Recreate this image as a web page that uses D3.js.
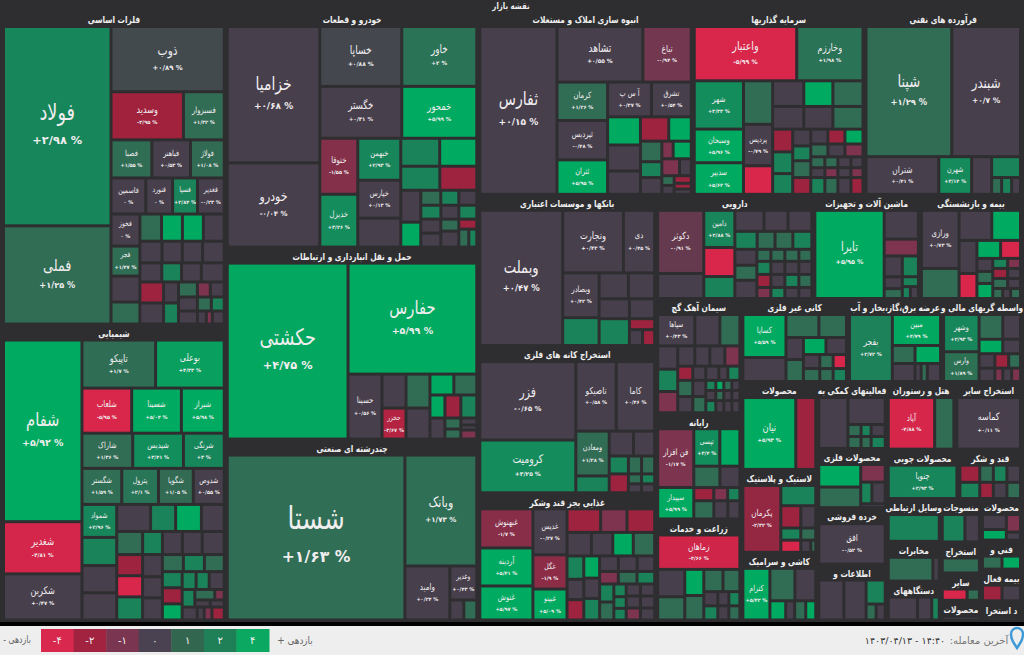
<!DOCTYPE html>
<html><head><meta charset="utf-8">
<script src="https://cdn.jsdelivr.net/npm/d3@7"></script>
<style>
html,body{margin:0;padding:0;background:#2e2e30;overflow:hidden}
svg{display:block;font-family:"DejaVu Sans",sans-serif}
</style></head><body><svg id="c" width="1024" height="655"></svg>
<script>
const GY=0.3,DK=1.3,GR=2.8,BR=5,PL=-1.2,RD=-2.8,HT=-5;
const C=(name,p,v)=>({name,p,v});
const U=(p,v)=>({name:"",p,v});
const H=(...children)=>({dir:"h",children});
const V=(...children)=>({dir:"v",children});
const S=(title,head,child)=>({title,head,dir:"h",children:[child]});
const E=(head,node)=>Object.assign(node,{head});

const felezat=S("فلزات اساسی",3550,H(
 V(C("فولاد",2.98,21500),C("فملی",1.25,10600)),
 V(C("ذوب",.89,7410),
  H(C("وسدید",-2.95,3500),C("فسبزوار",1.32,1970)),
  H(C("فصبا",1.55,1560),C("فباهنر",.53,1480),C("فولاژ",1.08,1290)),
  H(C("فاسمین",0,1260),C("فنورد",0,970),C("فسپا",2.84,900),C("فغدیر",-.23,970)),
  H(V(C("فخوز",0,930),C("فجر",1.47,870),U(GY,750),U(DK,640)),
    V(H(U(DK,590),U(BR,570),U(BR,570),U(GY,570)),
      H(U(GY,480),U(GY,440),U(GY,440),U(GY,470)),
      H(U(GY,420),U(GR,380),U(GY,380),U(GY,440)),
      H(V(U(RD,500),U(GY,500)),V(U(GY,315),U(GR,315)),
        V(H(U(DK,285),U(PL,195),U(GY,210)),H(U(GY,266),U(DK,196),U(GR,182)),H(U(GY,247),U(GY,117),U(PL,78),U(GY,156) ) ) ) ) ) ) ) );

const shimi=S("شیمیایی",3550,H(
 V(C("شفام",5.92,14300),C("شغدیر",-4.81,4110),C("شکربن",.47,3630)),
 V(H(C("تاپیکو",1.7,3550),C("بوعلی",4.33,3310)),
  H(C("شلعاب",-5.95,2250),C("شسینا",5.04,2250),C("شیراز",5.98,1940)),
  H(C("شاراک",1.36,1790),C("شپدیس",3.41,1790),C("شرنگی",3,1440)),
  H(C("شگستر",1.59,1440),C("پترول",2.1,1330),C("شگویا",1.05,1260),C("شدوص",.55,1120)),
  H(V(C("شمواد",2.96,1150),U(GR,980),U(GY,950),U(GY,950)),
    V(H(U(GY,920),U(GR,680),U(BR,700),U(GY,620)),
      H(U(DK,600),U(GR,460),U(GY,460),U(GY,460),U(GY,510)),
      H(V(U(RD,550),U(HT,550),U(GR,600)),V(U(GY,440),U(GY,420),U(GY,440)),
        V(H(U(DK,360),U(GR,360),U(DK,340)),
          H(V(U(GR,320),U(RD,320),U(BR,320)),
            V(H(U(GR,250),U(GR,234),U(GY,270)),
              H(U(GR,224),V(H(U(DK,210),U(PL,100)),H(U(GY,110),U(GY,100)))),
              H(U(GY,196),U(GY,90),U(PL,100),U(RD,160) ) ) ) ) ) ) ) ) ) );

const khodro=S("خودرو و قطعات",4000,H(
 V(C("خزامیا",.68,12650),C("خودرو",-.04,7810)),
 V(H(V(C("خساپا",.88,4920),C("خگستر",.41,4260)),V(C("خاور",2,4500),C("خمحور",5.99,3900))),
   H(V(C("ختوقا",-1.55,2130),C("خدیزل",3.26,2010)),
     V(C("خبهمن",2.93,1810),C("خپارس",.13,1630),U(GY,1250)),
     V(H(U(GR,1090),U(BR,1040)),H(U(GR,940),U(RD,890)),
       H(V(U(GY,640),U(BR,500)),
         V(H(U(DK,300),U(GR,270),U(GY,270)),H(U(GR,280),U(GY,250),U(GR,250)),
           H(V(U(GY,280),U(GY,280)),V(U(DK,216),U(GY,288)),V(U(RD,180),H(U(DK,180),U(GR,144) ) ) ) ) ) ) ) ) ) );

const haml=S("حمل و نقل انبارداری و ارتباطات",4000,H(
 C("حکشتی",4.75,21300),
 V(C("حفارس",5.99,14320),
   H(C("حسینا",.56,2210),V(U(GY,816),C("حخزر",-3.67,744)),V(U(DK,816),U(GY,744)),
     V(H(U(BR,500),U(DK,480)),H(U(BR,345),U(RD,368),U(GR,368)),
       H(U(GY,315),V(U(DK,176),U(DK,160)),V(U(GY,112),U(GY,80),U(PL,144) ) ) ) ) ) ) );

const chand=S("چندرشته ای صنعتی",4000,H(
 C("شستا",1.63,29370),
 V(C("وبانک",1.73,7990),
   H(C("وامید",.24,2430),V(C("وغدیر",.43,918),H(U(GY,280),U(DK,260) ) ) ) ) ) );

const anbooh=S("انبوه سازی املاک و مستغلات",3410,H(
 C("ثفارس",.15,13010),
 V(H(C("تشاهد",.55,4790),C("تباغ",-.94,2700)),
   H(V(C("کرمان",1.26,1950),C("ثپردیس",-.48,2000),C("ثتران",5.95,1750)),
     V(H(C("آ س پ",.37,1530),C("تشرق",.54,1390)),
       H(V(U(BR,930),U(GY,860),U(GY,770)),
         V(H(U(RD,690),U(BR,550)),
           H(V(U(DK,440),U(GR,340),U(GY,360)),
             V(H(U(PL,200),U(BR,320)),H(U(PL,300),U(GY,200)),
               H(V(U(DK,120),U(GY,110)),V(U(RD,130),U(RD,100),U(GY,90) ) ) ) ) ) ) ) ) ) ) );

const sarmaye=S("سرمایه گذاریها",2690,V(
 H(C("واعتبار",-5.99,5610),C("وخارزم",1.98,3630)),
 H(V(C("شهر",3.33,2400),C("وسبحان",5.96,1670),C("سدبیر",5.62,1570)),
   V(U(DK,1280),C("پردیس",-.79,1220),U(HT,840)),
   V(H(U(GY,806),U(BR,754),U(DK,780)),H(U(GY,713),U(GY,667),U(DK,690)),
     H(V(U(RD,460),U(GR,440),U(GR,420)),V(U(GY,306),U(GR,270),U(DK,306),U(RD,306)),
       V(H(U(GY,255),U(RD,255),U(BR,270)),H(U(DK,221),U(GY,221),U(PL,234)),
         H(U(DK,154),U(DK,143),U(GY,143),U(GY,132)),H(U(GY,140),U(PL,130),U(GY,130),U(PL,120)),
         H(U(GR,238),U(DK,221),U(GY,221),U(RD,204) ) ) ) ) ) ) );

const faravarde=S("فرآورده های نفتی",2480,V(
 H(C("شپنا",1.29,11270),C("شبندر",.7,9040)),
 H(C("شتران",.41,2770),C("شهرن",3.14,1250),U(GY,760),
   V(U(GR,610),H(U(DK,170),U(GR,170),U(GY,150) ) ) ) ) );

const bank=S("بانکها و موسسات اعتباری",2770,H(
 C("وبملت",.47,11150),
 V(H(C("ونجارت",.42,3780),C("دی",.45,1950)),
   H(V(C("وبصادر",.42,1620),U(GR,1010)),
     V(H(U(GY,754),U(GY,676)),H(U(GY,600),U(GY,500)),
       H(U(GR,810),V(U(RD,275),H(U(GY,208),U(RD,192) ) ) ) ) ) ) ) );

const kane=S("استخراج کانه های فلزی",2770,H(
 V(C("فزر",-.65,7500),C("کرومیت",3.25,5040)),
 V(H(C("تاصیکو",.58,2800),C("کاما",.46,2660)),
   H(V(C("ومعادن",1.28,1490),U(GR,560)),
     V(H(U(GY,600),U(GY,525)),H(U(GR,342),U(DK,234),U(DK,234)),
       H(U(RD,361),V(U(DK,130),U(GY,117)),V(U(GR,130),U(GY,117) ) ) ) ) ) ) );

const ghaza=S("غذایی بجز قند وشکر",2770,H(
 V(C("غبهنوش",-1.7,2070),C("آردینه",5.41,2010),C("غنوش",5.97,1800)),
 V(C("غدیس",-.27,1560),C("غگل",-1.9,1160),C("غبینو",5.09,1050)),
 V(H(U(RD,790),U(PL,620),U(RD,650)),H(U(GY,570),U(GY,500),U(BR,480),U(DK,500)),
   H(V(U(GR,390),U(GY,340),U(RD,340)),V(U(BR,350),U(GY,320),U(GR,340)),
     V(H(U(GY,290),U(GY,290),U(GY,270)),H(U(PL,234),U(DK,234),U(GR,221)),
       H(V(U(GR,255),U(DK,255)),V(U(GR,156),U(GR,143),U(GR,143)),
         V(H(U(GY,170),U(GY,170)),H(U(GY,170),U(GY,170)),H(U(PL,170),U(GY,170) ) ) ) ) ) ) ) );

const daroo=S("دارویی",2460,H(
 V(C("دکوثر",-.91,2900),U(GY,1150)),
 V(C("دامین",2.88,1150),U(HT,900),U(GR,680)),
 V(H(U(GY,610),U(GY,500),U(GY,500)),H(U(GR,400),U(DK,320),U(DK,320),U(GR,340)),
   H(V(U(GY,350),U(DK,330),U(GY,400)),
     V(H(U(DK,168),U(DK,168),U(DK,168),U(DK,156)),H(U(GR,182),U(GY,182),U(GY,182),U(GY,169)),
       H(U(RD,182),U(GY,182),U(GR,182),U(DK,169)),H(U(PL,154),U(GR,154),U(GY,154),U(GY,143) ) ) ) ) ) );

const mashin=S("ماشین آلات و تجهیزات",1680,H(
 C("تایرا",5.95,6140),
 V(U(GY,990),U(PL,580),
   H(V(U(GY,380),U(GY,216),U(DK,180)),V(U(GR,336),U(GR,160),H(U(GR,96),U(GY,96) ) ) ) ) ) );

const bime=S("بیمه و بازنشستگی",1600,H(
 V(C("ورازی",.73,2200),U(DK,1140)),
 V(H(U(GY,990),U(BR,870)),
   H(V(U(GY,594),U(HT,450)),
     V(H(U(BR,430),U(HT,360)),
       H(V(U(GY,208),U(DK,192),U(BR,240)),
         V(H(U(GR,150),U(PL,130)),H(U(RD,150),U(GY,130)),H(U(DK,150),U(GY,130)),H(U(DK,100),U(GY,80),U(DK,100) ) ) ) ) ) ) ) );

const siman=S("سیمان آهک گچ",1310,V(
 H(C("سپاها",.43,1150),U(GY,775),U(DK,620)),
 H(V(U(GY,460),U(GR,440),U(PL,420)),
   V(H(U(GY,340),U(GY,300),U(GY,300),U(PL,300)),
     H(U(RD,210),U(GY,182),U(GY,182),U(GY,126),U(GR,168)),
     H(V(U(DK,240),U(GY,240)),V(U(GY,208),U(DK,208)),
       V(H(U(GR,100),U(BR,80),U(DK,80),U(GY,80)),H(U(GY,100),U(DK,80),U(GY,80),U(GY,80)),H(U(GR,120),U(GY,96),U(GY,96),U(GY,96) ) ) ) ) ) ) );

const rayane=S("رایانه",1310,H(
 V(C("فن افزار",-1.17,2090),C("سپیدار",5.99,1120)),
 V(H(C("تپسی",3.4,960),U(BR,740)),H(U(DK,550),U(GY,420)),
   H(U(RD,260),U(PL,180),U(GR,160)),H(U(DK,360),U(GY,250),U(GY,216) ) ) ) );

const zeraat=S("زراعت و خدمات",1310,V(
 C("زماهان",-4.66,2790),
 H(V(U(GY,730),U(DK,620)),V(U(BR,490),U(DK,460)),
   V(H(U(DK,420),U(DK,370)),
     H(V(U(GY,196),U(GR,196)),V(H(U(GY,154),U(GR,154)),H(U(GY,154),U(DK,154) ) ) ) ) ) ) );

const kani=S("کانی غیر فلزی",1650,H(
 V(C("کساپا",5.59,1810),U(GY,1010)),
 V(H(U(DK,740),U(DK,620)),
   H(V(U(GY,374),U(DK,374)),
     V(H(U(BR,374),U(GY,340)),H(U(GY,224),U(DK,182),U(HT,182)),H(U(DK,208),U(DK,169),U(GR,169) ) ) ) ) ) );

const barq=S("عرضه برق،گاز،بخار و آب",1470,H(
 C("بفجر",2.72,2810),
 V(C("مبین",4.79,1460),H(U(DK,400),U(BR,450)),H(U(GY,400),U(GY,108),U(DK,108),U(GY,234) ) ) ) );

const vaseteh=S("واسطه گریهای مالی و",1250,H(
 V(C("وشهر",2.93,1300),C("وارس",1.89,1040)),
 V(H(U(DK,576),U(GY,432)),H(U(BR,336),U(GY,252)),H(U(GY,224),U(RD,196),U(DK,168)),H(U(GY,208),U(PL,104),U(GY,117),U(PL,117) ) ) ) );

const mahsulat=S("محصولات",1170,H(C("نیان",5.93,3760),U(RD,1420)));
const lastik=S("لاستیک و پلاستیک",1170,H(
 C("پکرمان",-2.32,2510),
 V(U(GR,700),H(U(RD,440),U(GY,330)),H(U(GR,240),U(DK,180)),H(U(HT,240),U(GY,120),U(DK,60) ) ) ) );
const kashi=S("کاشی و سرامیک",1170,H(
 C("کترام",5.42,1380),
 V(H(U(DK,800),U(GY,670)),H(U(BR,300),U(GY,170),U(DK,210),U(BR,190) ) ) ) );

const komaki=S("فعالیتهای کمکی به",1060,H(
 U(GY,1480),
 V(U(GY,1000),H(U(DK,156),U(GR,120),U(GY,168)),H(U(DK,156),U(DK,120),U(GR,168) ) ) ) );
const felezi=S("محصولات فلزی",1060,H(
 V(U(BR,940),U(DK,860)),
 V(U(PL,430),H(U(GR,240),U(GY,286)),U(GY,96) ) ) );
const khorde=S("خرده فروشی",1060,C("افق",-.52,2670));
const ettelaat=S("اطلاعات و",1060,H(U(GY,1000),U(GY,880),V(U(GR,456),H(U(DK,160),U(GY,144) ) ) ) );

const hotel=S("هتل و رستوران",1040,H(C("آپاد",-4.88,2390),U(DK,990)));
const sayer=S("استخراج سایر",1010,C("کماسه",.11,3280));
const choobi=S("محصولات چوبی",1060,C("چنوپا",2.93,2310));
const ghand=S("قند و شکر",960,V(
 H(U(RD,342),U(DK,234),U(GR,234),U(GY,234)),
 H(U(GR,323),U(RD,221),U(GY,221),U(DK,221) ) ) );
const ertebati=S("وسایل ارتباطی",850,U(GR,1350));
const mokhaberat=S("مخابرات",850,H(U(DK,1050),U(GY,150)));
const dastgah=S("دستگاههای",850,H(U(GY,660),U(GY,320),U(GR,170)));
const mansoojat=S("منسوجات",610,H(U(GR,640),U(GY,410)));
const estekhraj=S("استخراج",610,U(DK,576));
const sayer2=S("سایر",610,H(U(HT,290),U(DK,144)));
const mahsulat3=S("محصولات",610,U(GY,144));
const mahsulat2=S("محصولات",610,H(V(U(GY,374),U(BR,264)),V(U(PL,260),U(GY,117) ) ) );
const fani=S("فنی و",610,H(U(DK,270),U(BR,255)));
const bimeh=S("بیمه فعال",610,H(U(RD,324),U(GY,306)));
const estekh=S("د استخرا",610,U(GY,140));

const pageTitle="نقشه بازار";
const legendValues=[-4,-2,-1,0,1,2,4];
const legendColors=["#d9284e","#a2233f","#7a3650","#4a4250","#33664f","#1f8058","#0ba862"];
const lastTradeLabel="آخرین معامله:";
const lastTradeValue="۱۴۰۳/۰۴/۱۳ - ۱۴:۴۰";

const tree=H(
 V(felezat,shimi),
 V(khodro,haml,chand),
 V(H(anbooh,sarmaye,faravarde),
   E(2900,H(V(bank,kane,ghaza),
     V(H(daroo,mashin,bime),
       E(3000,H(V(siman,rayane,zeraat),
         V(H(kani,barq,vaseteh),
           H(V(mahsulat,lastik,kashi),
             V(komaki,felezi,khorde,ettelaat),
             V(H(hotel,sayer),H(choobi,ghand),
               H(V(ertebati,mokhaberat,dastgah),V(mansoojat,estekhraj,sayer2,mahsulat3),V(mahsulat2,fani,bimeh,estekh) ) ) ) ) ) ) ) ) ) ) );

const W=1024;
const svg=d3.select("#c");
const color=d3.scaleLinear()
 .domain([-5,-3,-.95,-.85,.85,1,1.8,3,5])
 .range(["#d9264b","#a1213d","#793650","#483f4c","#483f4c","#326a54","#2f6f55","#17875b","#00ab61"])
 .clamp(true);
const root=d3.hierarchy(tree).sum(d=>d.children?(d.head||0):d.v);
const tile=(n,x0,y0,x1,y1)=>{
 const total=d3.sum(n.children,c=>c.value);
 let pos=n.data.dir==="h"?x0:y0;
 for(const c of n.children){
  if(n.data.dir==="h"){c.x0=pos;pos+=c.value/total*(x1-x0);c.x1=pos;c.y0=y0;c.y1=y1;}
  else{c.y0=pos;pos+=c.value/total*(y1-y0);c.y1=pos;c.x0=x0;c.x1=x1;}
 }
};
d3.treemap().tile(tile).size([1017,606.5]).paddingInner(3)
 .paddingTop(n=>n.data.title?16:0)
 .paddingLeft(n=>n.data.title?1.5:0).paddingRight(n=>n.data.title?1.5:0)(root);

const plot=svg.append("g").attr("transform","translate(3.5,12)");
const leaves=root.leaves();
plot.selectAll("rect").data(leaves).join("rect")
 .attr("x",d=>d.x0).attr("y",d=>d.y0)
 .attr("width",d=>Math.max(0,d.x1-d.x0)).attr("height",d=>Math.max(0,d.y1-d.y0))
 .attr("fill",d=>color(d.data.p));

const fa=s=>String(s).replace(/\d/g,c=>"۰۱۲۳۴۵۶۷۸۹"[c]);
const pctText=p=>(p>0?"+":p<0?"-":"")+fa(d3.format(".2~f")(Math.abs(p)).replace(".","/"))+" %";
const nameSize=d3.scaleLinear().domain([25,45,85,110,145,170]).range([7.5,9,14,18,23,32]).clamp(true);
const narrow=0.78;

const lab=plot.selectAll("g.l").data(leaves.filter(d=>d.data.name)).join("g").attr("class","l")
 .attr("transform",d=>`translate(${(d.x0+d.x1)/2},${(d.y0+d.y1)/2})`);
lab.each(function(d){
 const w=d.x1-d.x0,h=d.y1-d.y0;
 let fs=nameSize(Math.sqrt(w*h));
 const g=d3.select(this);
 const t=g.append("text").text(d.data.name).attr("direction","rtl").attr("text-anchor","middle")
  .attr("fill","#f1eef0").attr("font-size",fs).attr("dominant-baseline","central");
 const len=t.node().getComputedTextLength()*narrow;
 if(len>w-2){fs=fs*(w-2)/len;t.attr("font-size",fs);}
 const off=Math.max(0.62*fs,6);
 t.attr("transform",`translate(0,${-off}) scale(${narrow},1)`);
 const ps=Math.max(5,fs*0.5);
 g.append("text").text(pctText(d.data.p)).attr("direction","ltr").attr("text-anchor","middle")
  .attr("fill","#f1eef0").attr("font-size",ps).attr("font-weight","bold").attr("dominant-baseline","central").attr("y",off);
});

plot.selectAll("text.h").data(root.descendants().filter(d=>d.data.title)).join("text").attr("class","h")
 .attr("transform",d=>`translate(${(d.x0+d.x1)/2},${d.y0+8}) scale(${narrow},1)`).attr("text-anchor","middle").attr("dominant-baseline","central")
 .attr("direction","rtl").attr("fill","#efefef").attr("font-size",9.5).attr("font-weight","bold")
 .text(d=>d.data.title);

svg.append("text").attr("transform",`translate(511,6) scale(${narrow},1)`).attr("text-anchor","middle").attr("dominant-baseline","central")
 .attr("direction","rtl").attr("fill","#efefef").attr("font-size",9).attr("font-weight","bold").text(pageTitle);

svg.append("rect").attr("x",0).attr("y",622).attr("width",W).attr("height",4).attr("fill","#000");
svg.append("rect").attr("x",0).attr("y",626).attr("width",W).attr("height",29).attr("fill","#eeeeee");
const lx=d3.scaleBand().domain(legendValues).range([41,269]);
const lc=d3.scaleOrdinal().domain(legendValues).range(legendColors);
const lg=svg.append("g");
lg.selectAll("rect").data(legendValues).join("rect")
 .attr("x",d=>lx(d)).attr("y",629).attr("width",lx.bandwidth()+.5).attr("height",23).attr("fill",d=>lc(d));
lg.selectAll("text").data(legendValues).join("text")
 .attr("x",d=>lx(d)+lx.bandwidth()/2).attr("y",640.5).attr("text-anchor","middle").attr("dominant-baseline","central")
 .attr("fill","#f3f3f3").attr("font-size",10).attr("direction","ltr")
 .text(d=>(d<0?"-":"")+fa(Math.abs(d)));
const foot=(x,txt,dir,col,fs,sx)=>svg.append("text").attr("transform",`translate(${x},640) scale(${sx},1)`).attr("text-anchor","middle")
 .attr("dominant-baseline","central").attr("direction",dir).attr("fill",col).attr("font-size",fs).text(txt);
foot(295,"بازدهی +","rtl","#666",10,.88);
foot(17,"بازدهی -","rtl","#666",10,.78);
foot(979,lastTradeLabel,"rtl","#777",10,1);
foot(905,lastTradeValue,"ltr","#333",9.5,1);
svg.append("path").attr("d","M1017 648 C1013 642 1011 639 1011 634 A6 6 0 1 1 1023 634 C1023 639 1021 642 1017 648 Z")
 .attr("fill","none").attr("stroke","#3d9ad6").attr("stroke-width",2.4);
</script></body></html>
